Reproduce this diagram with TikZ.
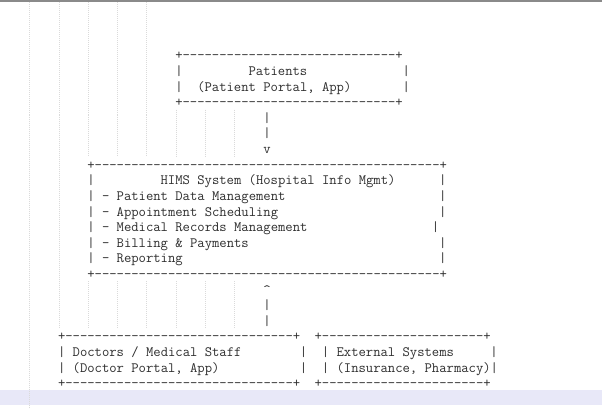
\documentclass[tikz,border=0pt]{standalone}
\usepackage{fontspec}
\ExplSyntaxOn
\newcommand\asciidash[1]{\prg_replicate:nn{#1}{-}}
\ExplSyntaxOff
\definecolor{txtcol}{HTML}{2E2E2E}
\definecolor{guidecol}{HTML}{DADADA}
\definecolor{bandcol}{HTML}{E8E8F8}
\definecolor{barcol}{HTML}{8A8A8A}
\tikzset{
  asc/.style={anchor=base west,inner sep=0pt,outer sep=0pt,text=txtcol,
    font=\ttfamily\fontsize{14.25}{16}\selectfont},
  guide/.style={draw=guidecol,line width=0.6pt,dash pattern=on 1pt off 1pt}
}
% name, row, column, text
\newcommand\asc[4]{\node[asc] (#1) at ({28.7+7.33*#3},{-(60+15.6*#2)}) {#4};}
\newcommand\gx[1]{29.5+7.33*#1}
\begin{document}
\begin{tikzpicture}[x=1pt,y=1pt]
\useasboundingbox (0,0) rectangle (602,-409);
\fill[white] (0,0) rectangle (602,-409);
\fill[barcol] (0,0) rectangle (602,-2.2);
\fill[bandcol] (0,-390) rectangle (602,-405);
% indent guides
\draw[guide] ({\gx{0}},-2.5) -- ({\gx{0}},-409);
\draw[guide] ({\gx{4}},-2.5) -- ({\gx{4}},-328);
\foreach \c in {8,12,16}{\draw[guide] ({\gx{\c}},-2.5) -- ({\gx{\c}},-156.4);}
\foreach \c in {20,24,28}{\draw[guide] ({\gx{\c}},-109.6) -- ({\gx{\c}},-156.4);}
\foreach \c in {8,12,16,20,24,28}{\draw[guide] ({\gx{\c}},-281.2) -- ({\gx{\c}},-328);}
% Patients box
\asc{p0}{0}{20}{+\asciidash{29}+}
\asc{p1a}{1}{20}{|}
\asc{p1b}{1}{30}{Patients}
\asc{p1c}{1}{51}{|}
\asc{p2a}{2}{20}{|}
\asc{p2b}{2}{23}{(Patient Portal, App)}
\asc{p2c}{2}{51}{|}
\asc{p3}{3}{20}{+\asciidash{29}+}
% arrow down
\asc{a4}{4}{32}{|}
\asc{a5}{5}{32}{|}
\asc{a6}{6}{32}{v}
% HIMS box
\asc{h7}{7}{8}{+\asciidash{47}+}
\asc{h8a}{8}{8}{|}
\asc{h8b}{8}{18}{HIMS System (Hospital Info Mgmt)}
\asc{h8c}{8}{56}{|}
\asc{h9a}{9}{8}{| - Patient Data Management}
\asc{h9c}{9}{56}{|}
\asc{h10a}{10}{8}{| - Appointment Scheduling}
\asc{h10c}{10}{56}{|}
\asc{h11a}{11}{8}{| - Medical Records Management}
\asc{h11c}{11}{55}{|}
\asc{h12a}{12}{8}{| - Billing \& Payments}
\asc{h12c}{12}{56}{|}
\asc{h13a}{13}{8}{| - Reporting}
\asc{h13c}{13}{56}{|}
\asc{h14}{14}{8}{+\asciidash{47}+}
% arrow up
\asc{b15}{15}{32}{\textasciicircum}
\asc{b16}{16}{32}{|}
\asc{b17}{17}{32}{|}
% bottom boxes
\asc{d18}{18}{4}{+\asciidash{31}+}
\asc{e18}{18}{39}{+\asciidash{22}+}
\asc{d19a}{19}{4}{| Doctors / Medical Staff}
\asc{d19c}{19}{37}{|}
\asc{e19a}{19}{40}{| External Systems}
\asc{e19c}{19}{63}{|}
\asc{d20a}{20}{4}{| (Doctor Portal, App)}
\asc{d20c}{20}{37}{|}
\asc{e20a}{20}{40}{| (Insurance, Pharmacy)|}
\asc{d21}{21}{4}{+\asciidash{31}+}
\asc{e21}{21}{39}{+\asciidash{22}+}
\end{tikzpicture}
\end{document}
